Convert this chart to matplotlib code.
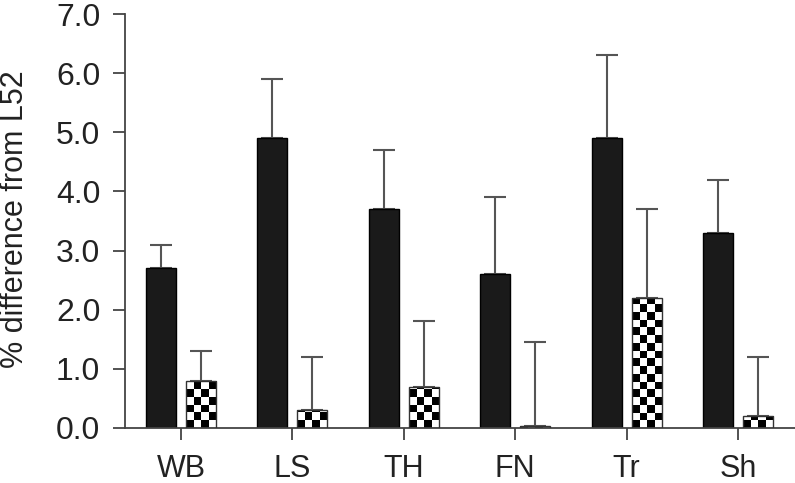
import numpy as np
import matplotlib.pyplot as plt
from matplotlib.patches import Rectangle

plt.rcParams['font.family'] = ['Liberation Sans', 'DejaVu Sans']

categories = ["WB", "LS", "TH", "FN", "Tr", "Sh"]
solid_vals = [2.7, 4.9, 3.7, 2.6, 4.9, 3.3]
solid_err = [0.4, 1.0, 1.0, 1.3, 1.4, 0.9]
checked_vals = [0.8, 0.3, 0.7, 0.03, 2.2, 0.2]
checked_err = [0.5, 0.9, 1.1, 1.42, 1.5, 1.0]

x = np.arange(len(categories))
width = 0.27
offset = 0.18

fig = plt.figure(figsize=(7.95, 4.83), dpi=100)
ax = fig.add_axes([0.157, 0.114, 0.843, 0.857])

ax.bar(x - offset, solid_vals, width, color="#1a1a1a", edgecolor="#000000", linewidth=1, zorder=2)
ax.errorbar(x - offset, solid_vals, yerr=[np.zeros(len(x)), solid_err], fmt="none",
            ecolor="#555555", elinewidth=1.5, capsize=8, capthick=1.5, zorder=1)

bars = ax.bar(x + offset, checked_vals, width, color="white", edgecolor="none", linewidth=0, zorder=2)
ax.errorbar(x + offset, checked_vals, yerr=[np.zeros(len(x)), checked_err], fmt="none",
            ecolor="#555555", elinewidth=1.5, capsize=8, capthick=1.5, zorder=1)

# checkerboard fill clipped to each checked bar
cell_x = width / 4
cell_y = 0.13
for b in bars:
    x0, w, h = b.get_x(), b.get_width(), b.get_height()
    if h <= 0:
        continue
    nrows = int(np.ceil(h / cell_y)) + 1
    pat = (np.add.outer(np.arange(nrows), np.arange(4)) % 2).astype(float)
    im = ax.imshow(pat, cmap="gray", vmin=0, vmax=1, origin="lower", interpolation="nearest",
                   extent=[x0, x0 + 4 * cell_x, 0, nrows * cell_y], aspect="auto", zorder=2.5)
    clip = Rectangle((x0, 0), w, h, transform=ax.transData)
    im.set_clip_path(clip)
    edge = Rectangle((x0, 0), w, h, fill=False, edgecolor="#333333", linewidth=1, zorder=3)
    ax.add_patch(edge)

ax.set_xlim(-0.503, 5.51)
ax.set_ylim(0, 7.0)
ax.set_yticks(np.arange(0, 7.01, 1.0))
ax.set_yticklabels([f"{v:.1f}" for v in np.arange(0, 7.01, 1.0)])
ax.set_xticks(x)
ax.set_xticklabels(categories)
ax.set_ylabel("% difference from L52", fontsize=22, color="#222222")
ax.yaxis.set_label_coords(-0.142, 0.504)

for s in ["top", "right"]:
    ax.spines[s].set_visible(False)
for s in ["left", "bottom"]:
    ax.spines[s].set_color("#444444")
    ax.spines[s].set_linewidth(1.3)
ax.tick_params(axis="both", colors="#444444", width=1.3, length=8.6, labelsize=23,
               labelcolor="#222222")
ax.tick_params(axis="y", pad=9)
ax.tick_params(axis="x", labelsize=22, pad=10)

fig.savefig("out.png", dpi=100)
